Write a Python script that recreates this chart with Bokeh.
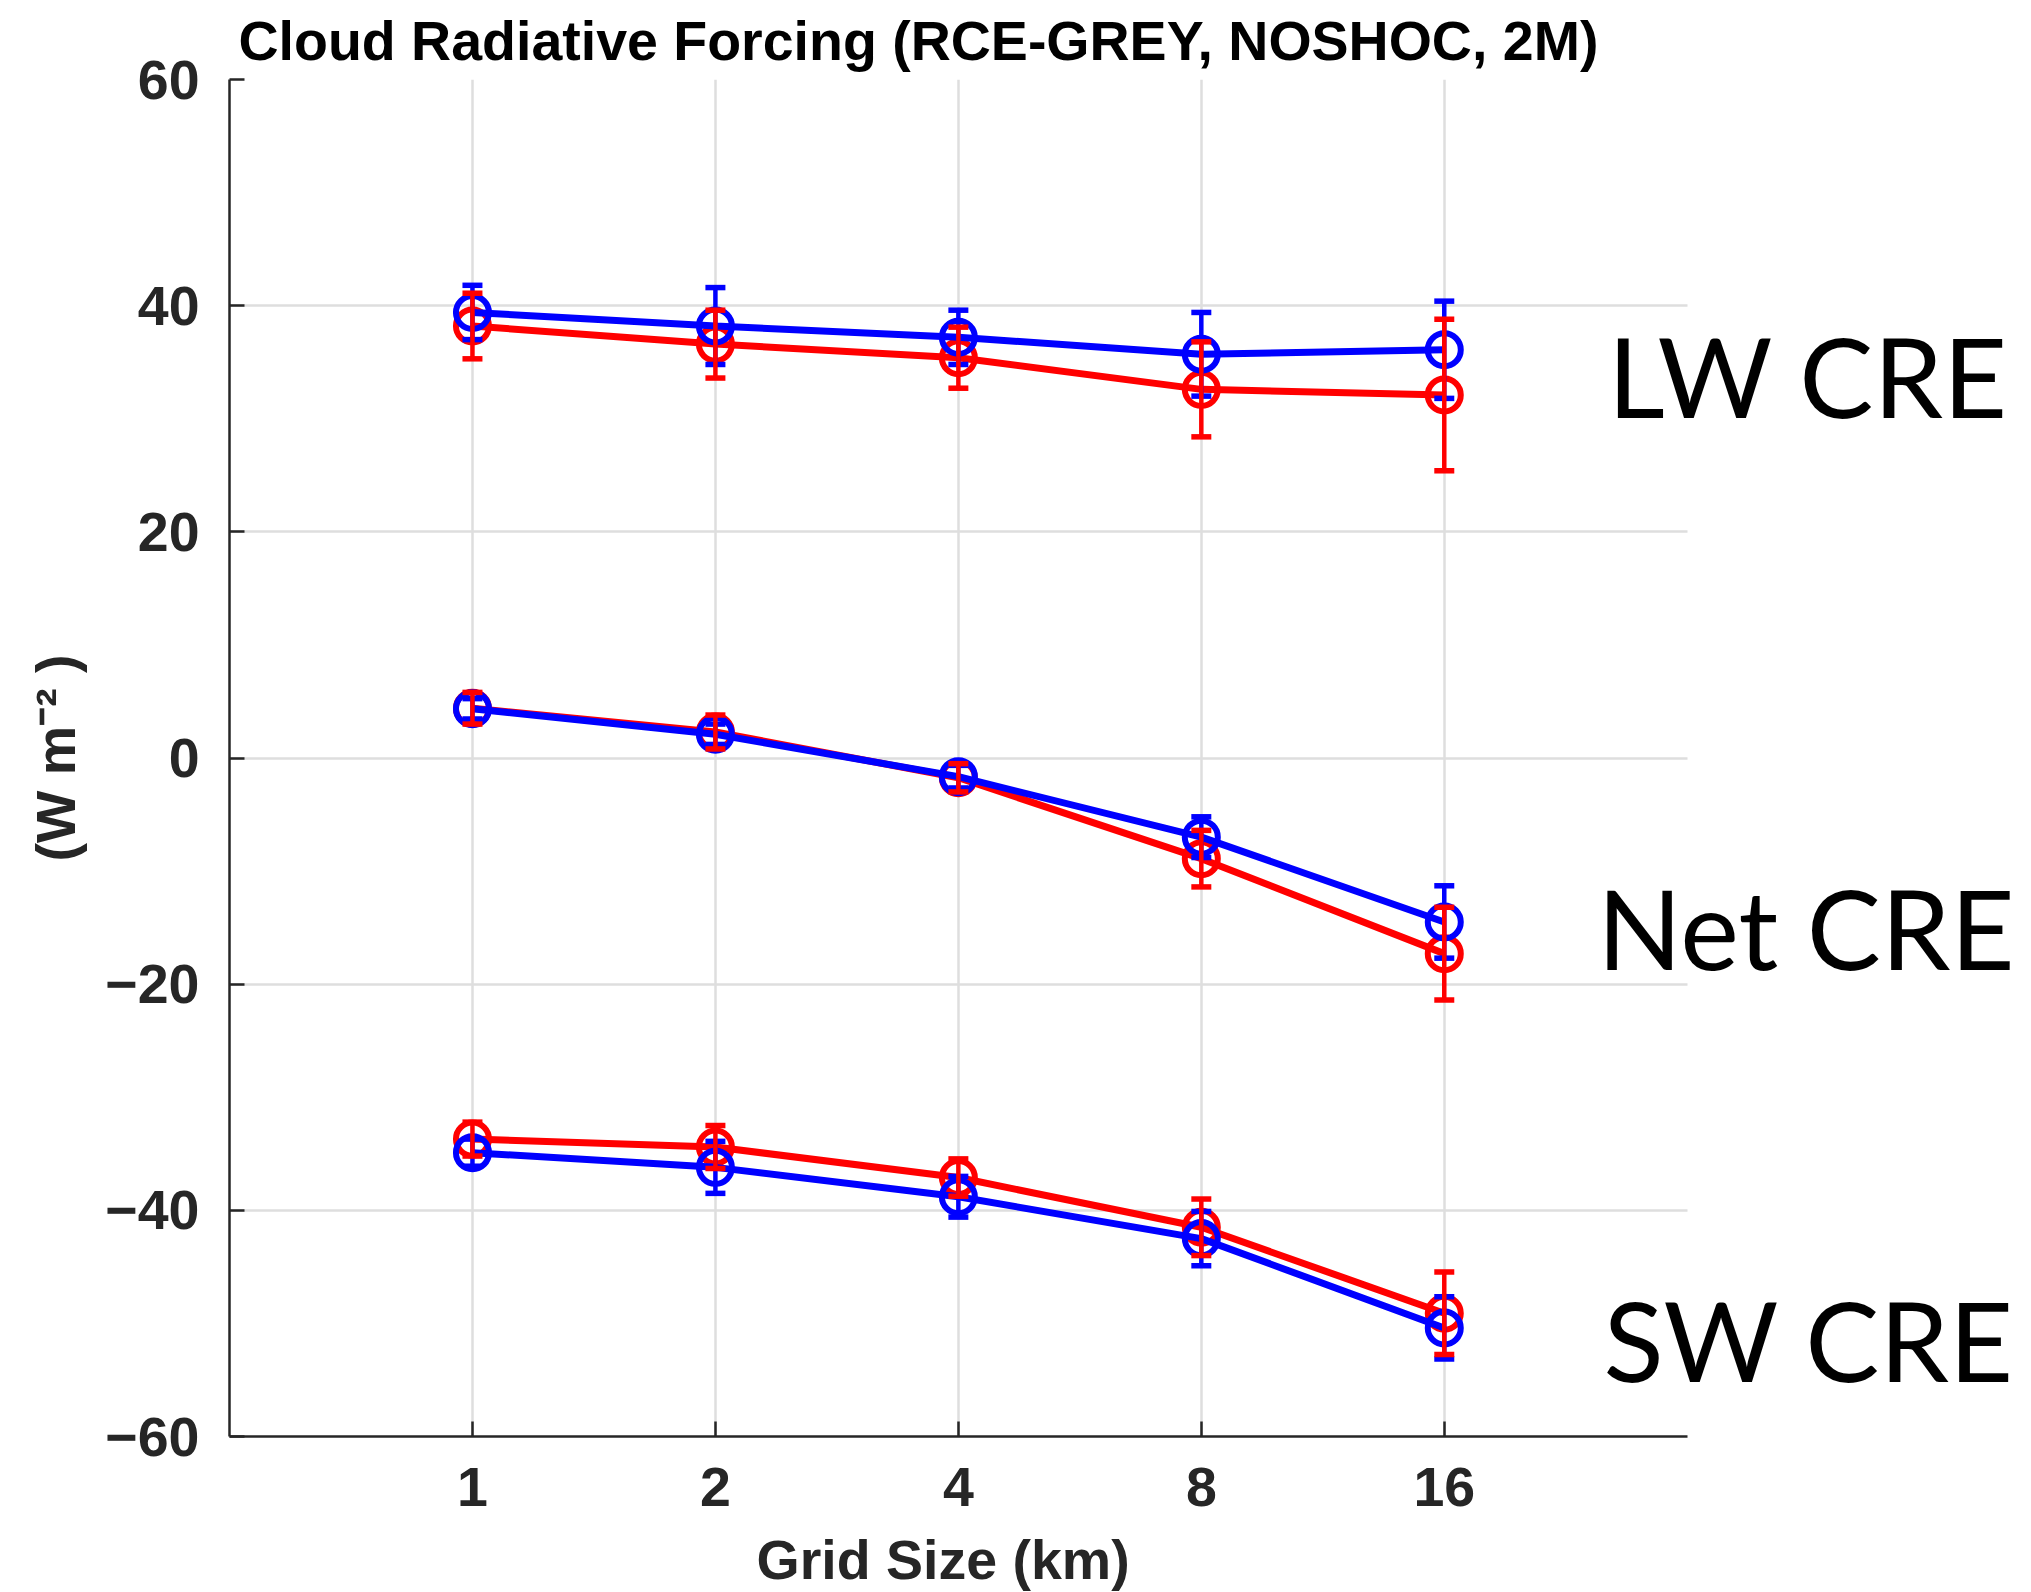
from bokeh.plotting import figure
from bokeh.models import FixedTicker, Label, Range1d, BasicTickFormatter, Title, Grid
from bokeh.embed import file_html
from bokeh.resources import INLINE

# ---- data ----
grid_km = [1, 2, 4, 8, 16]
x_ticks = [1, 2, 4, 8, 16]
y_ticks = [-60, -40, -20, 0, 20, 40, 60]

lw_red = [38.2, 36.6, 35.4, 32.6, 32.1]
lw_red_err = [2.9, 3.0, 2.7, 4.2, 6.7]
lw_blue = [39.4, 38.2, 37.2, 35.7, 36.1]
lw_blue_err = [2.4, 3.4, 2.4, 3.7, 4.3]

net_red = [4.4, 2.3, -1.75, -8.9, -17.3]
net_red_err = [1.4, 1.5, 1.25, 2.5, 4.1]
net_blue = [4.35, 2.1, -1.65, -7.0, -14.5]
net_blue_err = [0.9, 0.9, 1.0, 1.8, 3.2]

sw_red = [-33.7, -34.4, -37.1, -41.5, -49.1]
sw_red_err = [1.5, 1.9, 1.65, 2.5, 3.65]
sw_blue = [-34.9, -36.2, -38.8, -42.5, -50.4]
sw_blue_err = [1.2, 2.3, 1.8, 2.4, 2.75]

title_text = "Cloud Radiative Forcing (RCE-GREY, NOSHOC, 2M)"
x_label = "Grid Size (km)"
y_label = "(W m\u207b\u00b2 )"
group_labels = ["LW CRE", "Net CRE", "SW CRE"]

X_AXIS_BOUNDS = (0.5, 32)

RED = "#ff0000"
BLUE = "#0000ff"
AX = "#262626"
FONT = "Liberation Sans"
FS = "55.5px"

p = figure(width=2031, height=1592, x_axis_type="log",
           x_range=Range1d(0.5, 84), y_range=Range1d(-60, 60),
           output_backend="svg", toolbar_location=None,
           min_border_left=229, min_border_right=6,
           min_border_top=79, min_border_bottom=156)
p.outline_line_color = None
p.background_fill_color = "white"
p.border_fill_color = "white"

# title
p.title.text = title_text
p.title.align = "left"
p.title.offset = 9
p.title.standoff = 15
p.title.text_font = FONT
p.title.text_font_style = "bold"
p.title.text_font_size = FS
p.title.text_color = "black"

# axes
p.xaxis.ticker = FixedTicker(ticks=x_ticks)
p.xaxis.formatter = BasicTickFormatter()
p.xaxis.bounds = X_AXIS_BOUNDS
p.yaxis.ticker = FixedTicker(ticks=y_ticks)
for ax in (p.xaxis, p.yaxis):
    ax.axis_line_color = AX
    ax.axis_line_width = 2.5
    ax.major_tick_line_color = AX
    ax.major_tick_line_width = 2.5
    ax.major_tick_in = 15
    ax.major_tick_out = 0
    ax.minor_tick_line_color = None
    ax.major_label_text_font = FONT
    ax.major_label_text_font_style = "bold"
    ax.major_label_text_font_size = FS
    ax.major_label_text_color = AX
    ax.axis_label_text_font = FONT
    ax.axis_label_text_font_style = "bold"
    ax.axis_label_text_font_size = FS
    ax.axis_label_text_color = AX
p.xaxis.major_label_standoff = 31
p.yaxis.major_label_standoff = 30
p.yaxis.axis_label = y_label
p.yaxis.axis_label_standoff = 15

# x label as a title below the axis, placed under the data columns
spacer = Title(text=" ", text_font_size="1px", standoff=15)
p.add_layout(spacer, "below")
xt = Title(text=x_label, align="left", offset=527, standoff=0,
           text_font=FONT, text_font_style="bold", text_font_size=FS,
           text_color=AX)
p.add_layout(xt, "below")

GRID_COLOR = "#dedede"
p.xgrid.grid_line_color = GRID_COLOR
p.xgrid.grid_line_width = 2.5
if "cross_bounds" in Grid.properties():
    p.ygrid.grid_line_color = GRID_COLOR
    p.ygrid.grid_line_width = 2.5
    p.ygrid.cross_bounds = X_AXIS_BOUNDS
else:
    p.ygrid.visible = False
    p.segment(x0=[X_AXIS_BOUNDS[0]] * len(y_ticks), y0=y_ticks,
              x1=[X_AXIS_BOUNDS[1]] * len(y_ticks), y1=y_ticks,
              line_color=GRID_COLOR, line_width=2.5, level="underlay")


def series_line(ys, color):
    p.line(grid_km, ys, line_color=color, line_width=7)
    p.scatter(grid_km, ys, marker="circle", size=33, line_color=color,
              line_width=6, fill_color=None)


def series_err(ys, errs, color):
    lo = [y - e for y, e in zip(ys, errs)]
    hi = [y + e for y, e in zip(ys, errs)]
    p.segment(x0=grid_km, y0=lo, x1=grid_km, y1=hi, line_color=color,
              line_width=4.5)
    p.scatter(grid_km, lo, marker="dash", size=20, line_color=color,
              line_width=5.5)
    p.scatter(grid_km, hi, marker="dash", size=20, line_color=color,
              line_width=5.5)


reds = [(lw_red, lw_red_err), (net_red, net_red_err), (sw_red, sw_red_err)]
blues = [(lw_blue, lw_blue_err), (net_blue, net_blue_err), (sw_blue, sw_blue_err)]

for ys, _ in reds:
    series_line(ys, RED)
for ys, _ in blues:
    series_line(ys, BLUE)
for ys, es in blues:
    series_err(ys, es, BLUE)
for ys, es in reds:
    series_err(ys, es, RED)

# group annotations
label_pos = [(25.5, 33.9), (24.76, -14.97), (25.2, -51.4)]
for txt, (lx, ly) in zip(group_labels, label_pos):
    p.add_layout(Label(x=lx, y=ly, text=txt, text_align="left",
                       text_baseline="middle", text_font="Lato",
                       text_font_size="111px", text_color="black"))

open("out.html", "w").write(file_html(p, INLINE))
